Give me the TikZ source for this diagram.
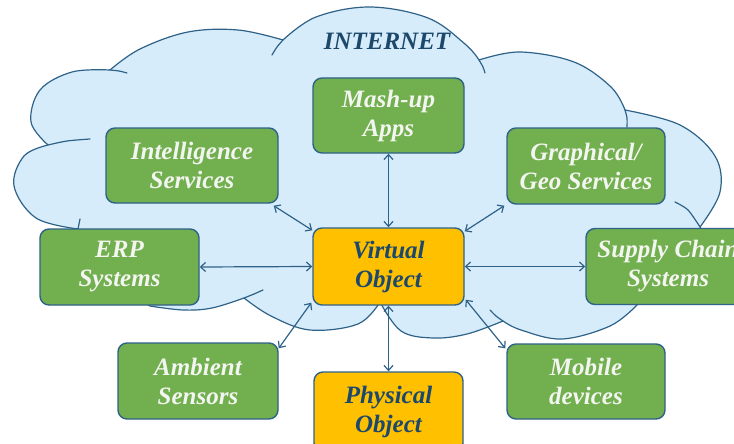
\documentclass[tikz,border=0pt]{standalone}
\usepackage{fontspec}
\setmainfont{Liberation Serif}
\usetikzlibrary{arrows.meta}

\definecolor{cloudfill}{RGB}{215,236,250}
\definecolor{edgeblue}{RGB}{47,98,136}
\definecolor{boxgreen}{RGB}{114,175,78}
\definecolor{boxgold}{RGB}{255,192,0}
\definecolor{navy}{RGB}{28,72,108}
\definecolor{paletext}{RGB}{243,245,240}

\tikzset{
  label font/.style={font=\fontsize{25}{29}\selectfont\bfseries\itshape},
  basebox/.style={rounded corners=9pt, draw=edgeblue, line width=1.4pt,
    align=center, inner sep=2pt, label font},
  greenbox/.style={basebox, fill=boxgreen, text=paletext},
  goldbox/.style={basebox, fill=boxgold, text=navy},
  cloudline/.style={draw=edgeblue, line width=1.2pt, line join=round, line cap=round},
  bump/.style={smooth, tension=0.6},
  link/.style={draw=edgeblue, line width=1.2pt, >={Straight Barb[length=5pt,width=9pt]}, <->}
}

\begin{document}
\begin{tikzpicture}[x=1pt,y=-1pt]
\useasboundingbox (0,0) rectangle (734,444);
\clip (0,0) rectangle (734,444);
\fill[white] (0,0) rectangle (734,444);

% the cloud: one bump after another, clockwise
\path[cloudline, fill=cloudfill]
  plot[bump] coordinates {(48,145) (31,122) (40,90) (72,72) (110,70)}
  -- plot[bump] coordinates {(110,70) (140,49) (188,32) (238,30) (283,40)}
  -- plot[bump] coordinates {(283,40) (316,17) (370,7) (428,18) (465,44) (479,60)}
  -- plot[bump] coordinates {(479,60) (520,52) (574,62) (611,87) (625,110)}
  -- plot[bump] coordinates {(625,110) (680,125) (715,156) (720,192) (700,227)}
  -- (712,245) -- (712,275) -- (690,295) -- (645,300) -- (637,305)
  -- plot[bump] coordinates {(637,305) (610,326) (562,339) (521,330) (503,321)}
  -- plot[bump] coordinates {(503,321) (467,334) (433,338) (401,331) (380,302)}
  -- plot[bump] coordinates {(380,302) (358,324) (310,330) (271,316) (244,298)}
  -- plot[bump] coordinates {(244,298) (212,308) (183,310) (150,306)}
  -- (140,300) -- (100,260) -- (78,229)
  -- plot[bump] coordinates {(78,229) (36,218) (14,186) (24,156) (48,145)}
  -- cycle;

% short inner ends of the bumps
\draw[cloudline] plot[smooth] coordinates {(110,70) (119,71) (127,73)};
\draw[cloudline] plot[smooth] coordinates {(272,55) (277,47) (283,40)};
\draw[cloudline] plot[smooth] coordinates {(479,60) (483,67) (485,73)};
\draw[cloudline] plot[smooth] coordinates {(625,110) (627,118) (627,127)};
\draw[cloudline] plot[smooth] coordinates {(675,202) (688,210) (700,227)};
\draw[cloudline] plot[smooth] coordinates {(503,321) (496,316) (490,310)};
\draw[cloudline] plot[smooth] coordinates {(244,298) (254,294) (263,290)};
\draw[cloudline] plot[smooth] coordinates {(48,145) (67,141) (90,139)};
\draw[cloudline] plot[smooth] coordinates {(78,229) (80,219)};

\node[anchor=base, text=navy, label font] (inet) at (387,50) {INTERNET};

% boxes
\node[greenbox, minimum width=172pt, minimum height=75pt] (intel) at (192,165.5) {Intelligence\\Services};
\node[greenbox, minimum width=151pt, minimum height=75pt] (mash) at (388.5,115.5) {Mash-up\\Apps};
\node[greenbox, minimum width=158pt, minimum height=76pt] (geo) at (586,166) {Graphical/\\Geo Services};
\node[greenbox, minimum width=159pt, minimum height=76pt] (erp) at (119.5,267) {ERP\\Systems};
\node[goldbox, minimum width=151pt, minimum height=77pt] (virt) at (388.5,266.5) {Virtual\\Object};
\node[greenbox, minimum width=164pt, minimum height=76pt] (supply) at (668,266.5) {Supply Chain\\Systems};
\node[greenbox, minimum width=160pt, minimum height=76pt] (amb) at (198,381) {Ambient\\Sensors};
\node[goldbox, minimum width=149pt, minimum height=80pt] (phys) at (388.5,412) {Physical\\Object};
\node[greenbox, minimum width=158pt, minimum height=75pt] (mob) at (586,381.5) {Mobile\\devices};

% connectors
\draw[link] (erp.east) -- (virt.west);
\draw[link] (virt.east) -- (supply.west);
\draw[link] (mash.south) -- (mash.south |- virt.north);
\draw[link] (virt.south) -- (virt.south |- phys.north);
\draw[link] ([shift={(-5,2)}]intel.south east) -- ([shift={(0,3)}]virt.north west);
\draw[link] ([shift={(-2,1)}]geo.south west) -- ([shift={(0,4)}]virt.north east);
\draw[link] ([shift={(0,6)}]amb.north east) -- ([shift={(-1,-3)}]virt.south west);
\draw[link] ([shift={(-1,5)}]mob.north west) -- ([shift={(1,-6)}]virt.south east);
\end{tikzpicture}
\end{document}
